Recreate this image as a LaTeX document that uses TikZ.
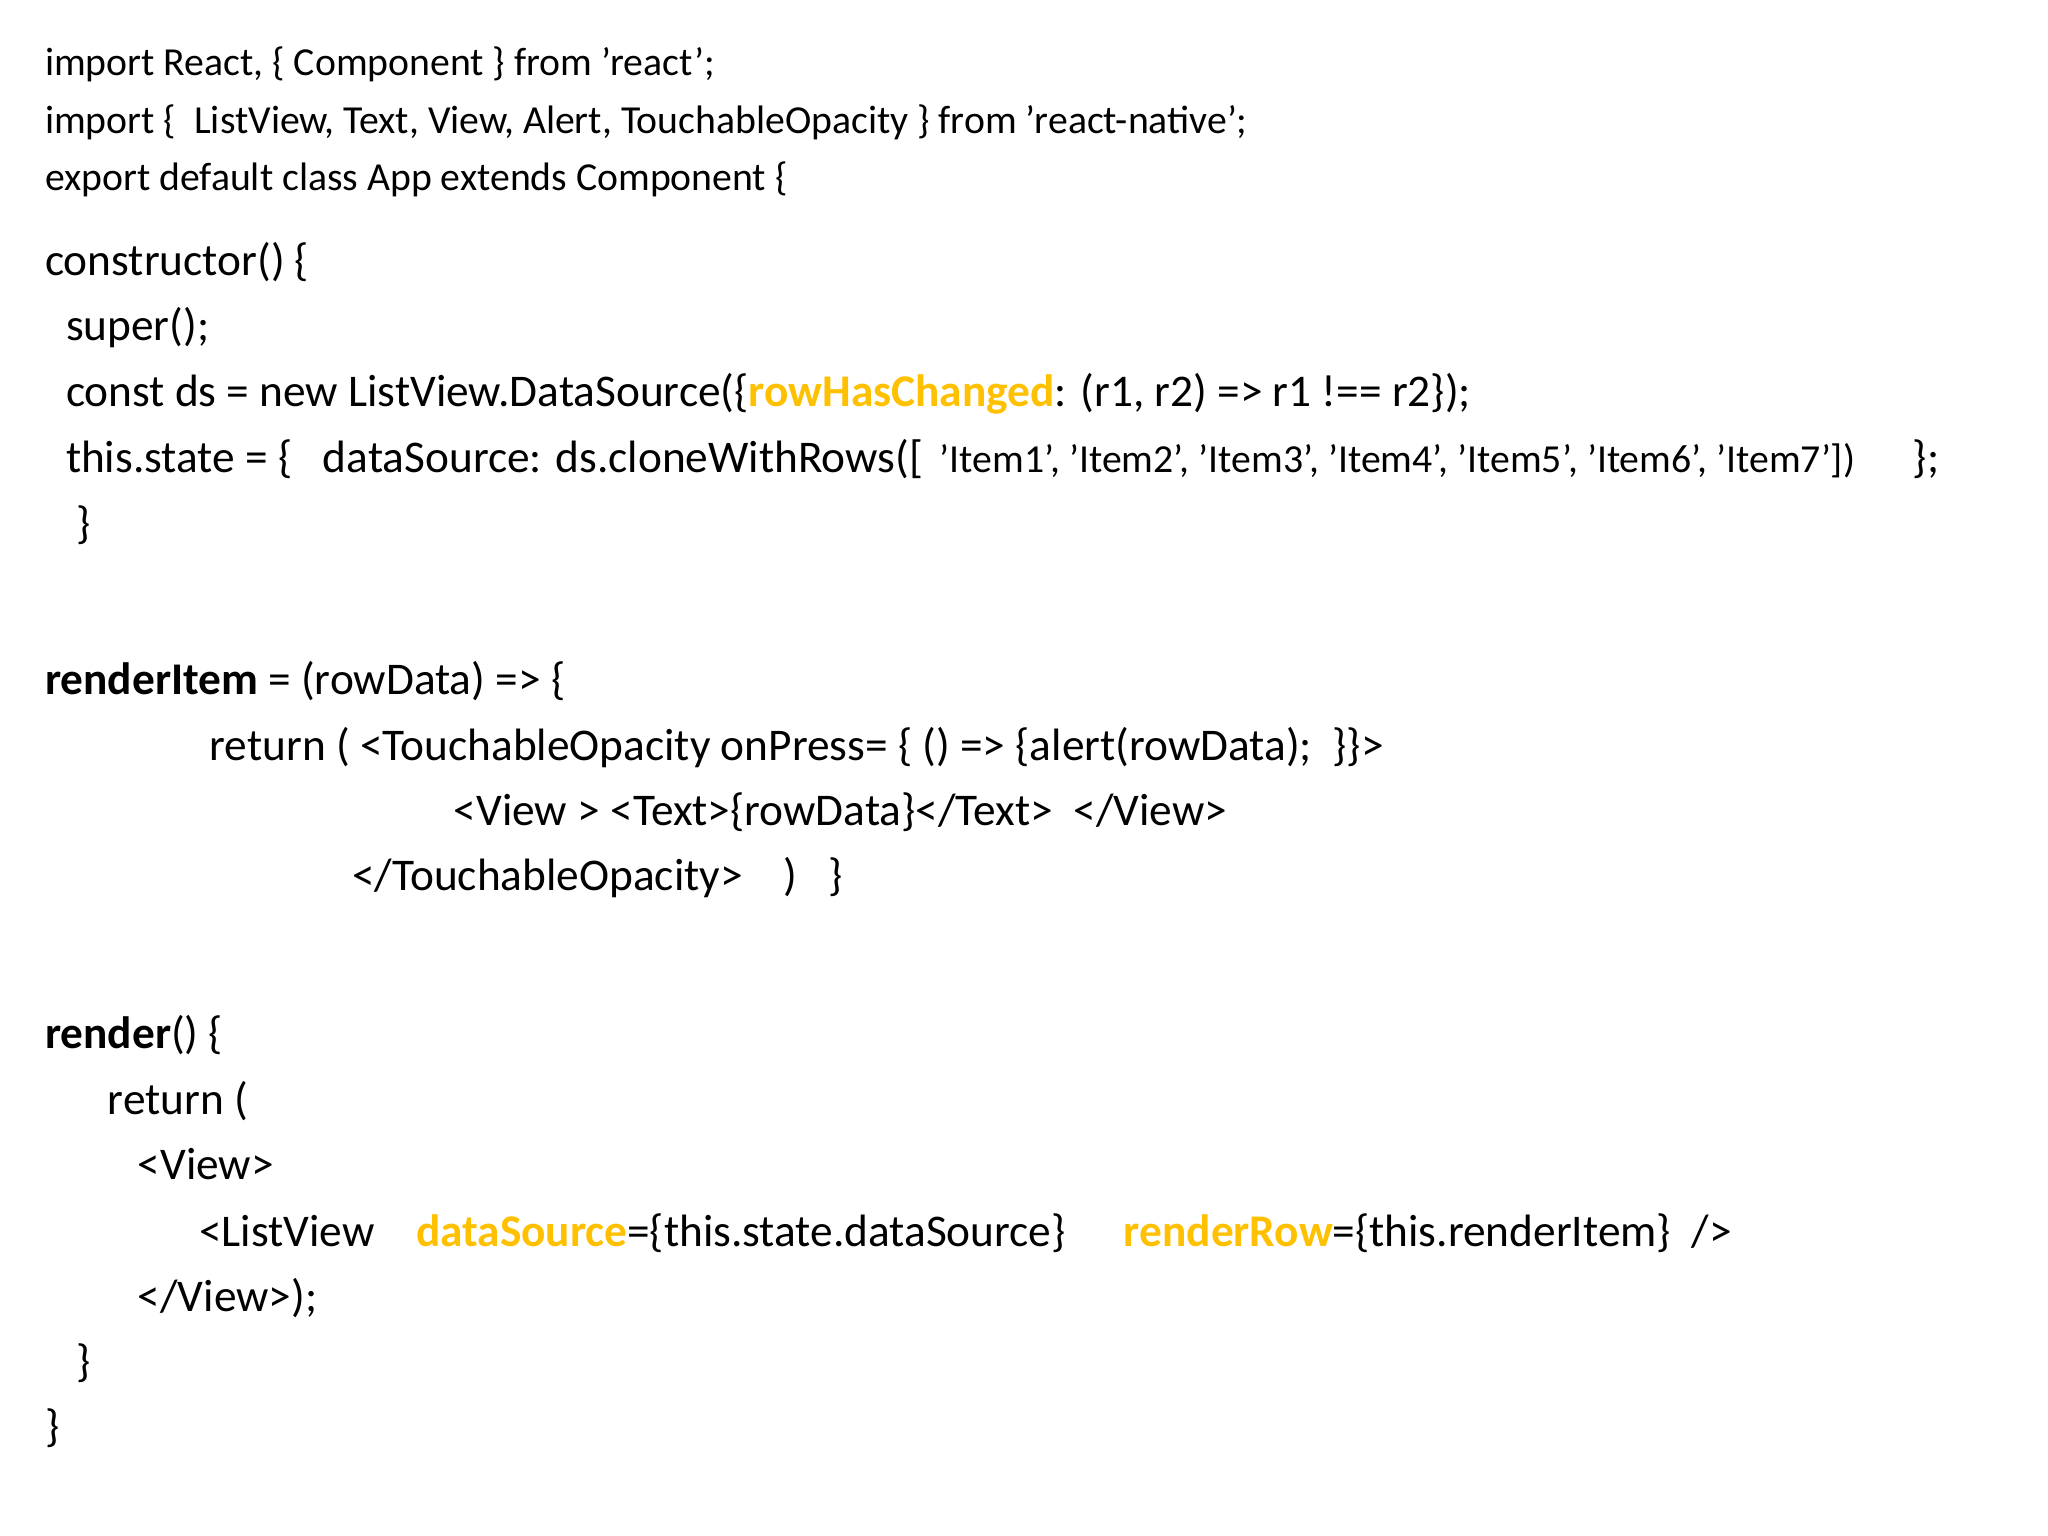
\documentclass[tikz,border=0pt]{standalone}
\usepackage{fontspec}
\setmainfont{Carlito}
\definecolor{kw}{HTML}{FFC000}
\newcommand{\qq}{\char"0027\relax}
\begin{document}
\begin{tikzpicture}[x=0.01306cm,y=-0.01306cm,
  t/.style={anchor=base west,inner sep=0pt,font=\fontsize{12.9pt}{15pt}\selectfont},
  s/.style={anchor=base west,inner sep=0pt,font=\fontsize{11.3pt}{13pt}\selectfont}]
\useasboundingbox[fill=white] (0,0) rectangle (1568,1176);
\node[s] (l1) at (34,58) {import React, \{ Component \} from \qq react\qq;};
\node[s] (l2) at (34,102) {import \{\ \ ListView, Text, View, Alert, TouchableOpacity \} from \qq react-native\qq;};
\node[s] (l3) at (34,146) {export default class App extends Component \{};
\node[t] (c1) at (34,211) {constructor() \{};
\node[t] (c2) at (50,261) {super();};
\node[t] (c3) at (50,311) {const ds = new ListView.DataSource(\{\textcolor{kw}{\textbf{rowHasChanged}}: (r1, r2) => r1 !== r2\});};
\node[t] (c4) at (50,362) {this.state = \{\ \ \ dataSource: ds.cloneWithRows([};
\node[s] (c4b) at (719,362) {\qq Item1\qq, \qq Item2\qq, \qq Item3\qq, \qq Item4\qq, \qq Item5\qq, \qq Item6\qq, \qq Item7\qq])};
\node[t] (c4c) at (1464,362) {\};};
\node[t] (c5) at (58,412) {\}};
\node[t] (r1) at (34,532) {\textbf{renderItem} = (rowData) => \{};
\node[t] (r2) at (160,582) {return ( <TouchableOpacity onPress= \{ () => \{alert(rowData);\ \ \}\}>};
\node[t] (r3) at (347,632) {<View > <Text>\{rowData\}</Text>\ \ </View>};
\node[t] (r4) at (269,682) {</TouchableOpacity>\ \ \ \ )\ \ \ \}};
\node[t] (m1) at (34,803) {\textbf{render}() \{};
\node[t] (m2) at (82,853) {return (};
\node[t] (m3) at (105,903) {<View>};
\node[t] (m4) at (152,954) {<ListView};
\node[t] (m4b) at (318,954) {\textcolor{kw}{\textbf{dataSource}}=\{this.state.dataSource\}};
\node[t] (m4c) at (860,954) {\textcolor{kw}{\textbf{renderRow}}=\{this.renderItem\}\ \ />};
\node[t] (m5) at (105,1004) {</View>);};
\node[t] (m6) at (58,1054) {\}};
\node[t] (m7) at (34,1104) {\}};
\end{tikzpicture}
\end{document}
